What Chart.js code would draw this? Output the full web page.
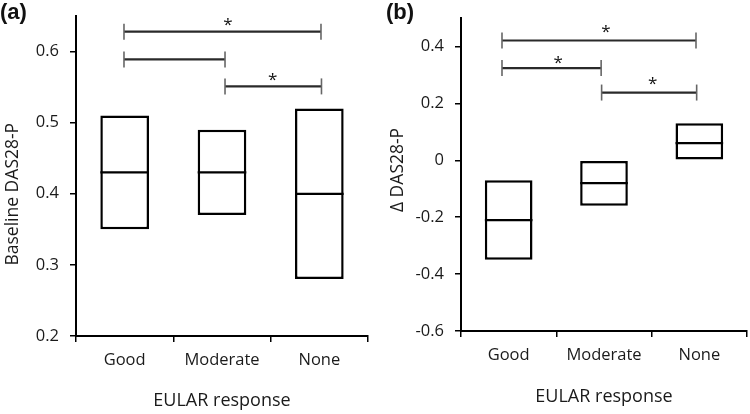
<!DOCTYPE html>
<html><head><meta charset="utf-8">
<script src="https://cdn.jsdelivr.net/npm/chart.js@4.4.1/dist/chart.umd.min.js"></script>
<style>
html,body{margin:0;padding:0;background:#fff;}
#wrap{position:relative;width:750px;height:414px;overflow:hidden;}
.panel{position:absolute;top:0;width:375px;height:414px;}
.lbl{position:absolute;font:bold 22px "Liberation Sans",Arial,sans-serif;line-height:22px;color:#111;}
</style></head>
<body><div id="wrap">
<div class="panel" style="left:0"><canvas id="ca" width="375" height="414"></canvas></div>
<div class="panel" style="left:375px"><canvas id="cb" width="375" height="414"></canvas></div>
<div class="lbl" style="left:0;top:1px">(a)</div>
<div class="lbl" style="left:386px;top:1px">(b)</div>
</div>
<script>
// ---- data ----
const categories = ['Good', 'Moderate', 'None'];

const aLow    = [0.35, 0.37, 0.28];
const aHigh   = [0.51, 0.49, 0.52];
const aMedian = [0.43, 0.43, 0.40];
const aTicks  = [0.2, 0.3, 0.4, 0.5, 0.6];
const aRange  = [0.2, 0.65];
const aBracketFrom = [-0.007, -0.007, 1.031];
const aBracketTo   = [2.017, 1.031, 2.022];
const aBracketY    = [0.628, 0.589, 0.551];
const aStarX = [1.06, null, 1.52];
const aStarY = [0.645, null, 0.567];

const bLow    = [-0.35, -0.16, 0.00];
const bHigh   = [-0.07, 0.00, 0.13];
const bMedian = [-0.21, -0.08, 0.06];
const bTicks  = [-0.6, -0.4, -0.2, 0, 0.2, 0.4];
const bRange  = [-0.6, 0.5];
const bBracketFrom = [-0.07, -0.07, 0.975];
const bBracketTo   = [1.965, 0.97, 1.972];
const bBracketY    = [0.421, 0.324, 0.238];
const bStarX = [1.02, 0.52, 1.51];
const bStarY = [0.468, 0.358, 0.286];

// ---- rendering ----
const FONT = 'Open Sans';
const TXT = '#1a1a1a';
const fmt = v => Math.abs(v) < 1e-9 ? '0' : String(+(+v).toFixed(1));

const starPlugin = {
  id: 'stars',
  afterDatasetsDraw(chart, args, opts) {
    const ctx = chart.ctx, xs = chart.scales.xl, ys = chart.scales.y;
    ctx.save();
    ctx.font = '17px "' + FONT + '"';
    ctx.fillStyle = '#111';
    ctx.textAlign = 'center';
    ctx.textBaseline = 'alphabetic';
    opts.x.forEach((x, i) => {
      if (x == null) return;
      ctx.fillText('*', xs.getPixelForValue(x), ys.getPixelForValue(opts.y[i]) + 10);
    });
    ctx.restore();
  }
};

function buildPanel(id, o) {
  const ds = [];
  ds.push({
    type: 'bar', data: o.low.map((l, i) => [l, o.high[i]]),
    backgroundColor: '#fff', borderColor: '#000', borderWidth: 2.5, borderSkipped: false,
    barPercentage: 0.5, categoryPercentage: 1, grouped: false, xAxisID: 'x', order: 3
  });
  ds.push({
    type: 'line', data: o.median, showLine: false, pointStyle: 'line',
    pointRadius: o.halfW, pointBorderWidth: 2.2, pointBorderColor: '#000', borderColor: '#000',
    xAxisID: 'x', order: 2
  });
  o.from.forEach((f, i) => {
    const pts = [{x: f, y: o.by[i]}, {x: o.to[i], y: o.by[i]}];
    ds.push({type: 'line', data: pts, borderColor: '#2a2a2a', borderWidth: 2.2, pointRadius: 0, xAxisID: 'xl', order: 1});
    ds.push({type: 'line', data: pts, showLine: false, pointStyle: 'line', pointRotation: 90,
      pointRadius: 8, pointBorderWidth: 1.6, pointBorderColor: '#666', borderColor: '#666', xAxisID: 'xl', order: 0});
  });

  return new Chart(document.getElementById(id), {
    type: 'bar',
    data: {labels: categories, datasets: ds},
    plugins: [starPlugin],
    options: {
      responsive: false, animation: false, events: [],
      layout: {padding: o.pad, autoPadding: false},
      plugins: {legend: {display: false}, tooltip: {enabled: false}, stars: {x: o.starX, y: o.starY}},
      scales: {
        x: {
          type: 'category', offset: true,
          afterFit: s => { s.height = o.xHeight; s.paddingLeft = 0; s.paddingRight = 0; },
          border: {display: true, color: '#000', width: 2},
          grid: {display: true, offset: true, drawOnChartArea: false, drawTicks: true, tickLength: 6, color: '#000', lineWidth: 1.5},
          ticks: {padding: 8, color: TXT, maxRotation: 0, autoSkip: false, font: {family: FONT, size: 16.5}},
          title: {display: true, text: 'EULAR response', color: TXT, font: {family: FONT, size: 18}, padding: {top: 0, bottom: o.xtPad}}
        },
        xl: {type: 'linear', display: false, offset: false, grid: {offset: false}, min: -0.5, max: 2.5, position: 'bottom'},
        y: {
          type: 'linear', min: o.range[0], max: o.range[1],
          afterBuildTicks: s => { s.ticks = o.ticks.map(v => ({value: v})); },
          afterFit: s => { s.width = o.yWidth; s.paddingTop = 0; s.paddingBottom = 0; },
          border: {display: true, color: '#000', width: 2},
          grid: {display: true, drawOnChartArea: false, drawTicks: true, tickLength: 6, color: '#000', lineWidth: 1.5},
          ticks: {padding: 11, color: TXT, font: {family: FONT, size: 16.5}, callback: v => fmt(v)},
          title: {display: true, text: o.yTitle, color: TXT, font: {family: FONT, size: 17.5}, padding: {top: o.ytPad, bottom: 0}}
        }
      }
    }
  });
}

buildPanel('ca', {
  low: aLow, high: aHigh, median: aMedian, ticks: aTicks, range: aRange,
  from: aBracketFrom, to: aBracketTo, by: aBracketY, starX: aStarX, starY: aStarY,
  halfW: 24.3, pad: {left: 0, right: 7, top: 16, bottom: 0}, xHeight: 78, yWidth: 76,
  xtPad: 2, ytPad: 2.5, yTitle: 'Baseline DAS28-P' + '\u00A0'.repeat(8)
});
buildPanel('cb', {
  low: bLow, high: bHigh, median: bMedian, ticks: bTicks, range: bRange,
  from: bBracketFrom, to: bBracketTo, by: bBracketY, starX: bStarX, starY: bStarY,
  halfW: 23.8, pad: {left: 0, right: 3, top: 18, bottom: 0}, xHeight: 83, yWidth: 86,
  xtPad: 6, ytPad: 12.5, yTitle: '\u00A0\u00A0\u0394 DAS28-P'
});
</script>
</body></html>
